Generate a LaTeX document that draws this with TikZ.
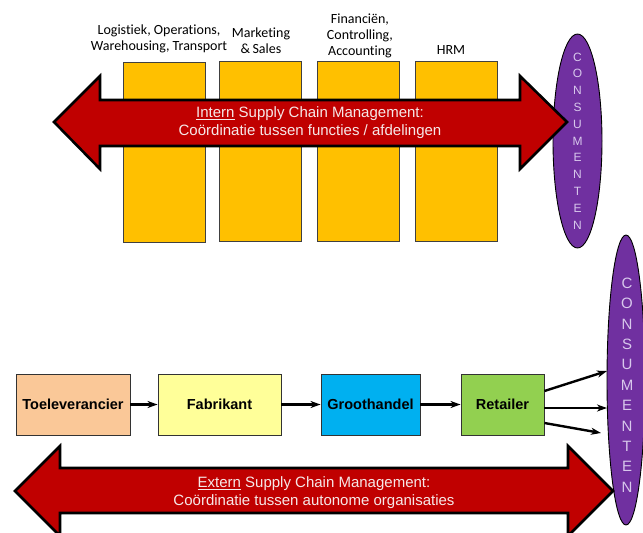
\documentclass[tikz,border=0pt]{standalone}
\usepackage{fontspec}
\setmainfont{Liberation Sans}
\newfontfamily\calibri[Ligatures=NoCommon]{Carlito}
\usetikzlibrary{arrows.meta,shapes.geometric}
\definecolor{ygold}{HTML}{FFC000}
\definecolor{sred}{HTML}{C00000}
\definecolor{cpurple}{HTML}{7030A0}
\definecolor{lavtext}{HTML}{D8C8EC}
\definecolor{pinktext}{HTML}{F6E8E8}
\definecolor{peach}{HTML}{FAC898}
\definecolor{lyellow}{HTML}{FFFF99}
\definecolor{cyanb}{HTML}{00B0F0}
\definecolor{lgreen}{HTML}{92D050}
\tikzset{
  ybox/.style={draw=black!75, line width=0.9pt, fill=ygold, minimum width=82pt, minimum height=180pt, inner sep=0pt},
  toplabel/.style={font=\calibri\fontsize{14}{16}\selectfont, align=center, anchor=base, inner sep=0pt},
  bigarrow/.style={draw=black, line width=2.6pt, fill=sred, line join=miter},
  arrowtext/.style={text=pinktext, font=\fontsize{15}{18}\selectfont, align=center, inner sep=0pt},
  cons/.style={draw=black, line width=0.9pt, fill=cpurple},
  constext/.style={text=lavtext, align=center, inner sep=0pt},
  chainbox/.style={draw=black!80, line width=0.9pt, minimum height=61pt, inner sep=0pt, font=\bfseries\fontsize{14.5}{17}\selectfont},
  flow/.style={line width=2.4pt, -{Stealth[length=10pt,width=7pt,inset=3pt]}}
}
\begin{document}
\begin{tikzpicture}[x=1pt,y=-1pt]
\useasboundingbox (0,0) rectangle (643,533);
% top part
\node[ybox] (y1) at (164,152) {};
\node[ybox] (y2) at (260,151) {};
\node[ybox] (y3) at (358,151) {};
\node[ybox] (y4) at (456,151) {};
\node[toplabel] (l1) at (159,50) {Logistiek, Operations,\\Warehousing, Transport};
\node[toplabel] (l2) at (261,53.5) {Marketing\\\&\,Sales};
\node[toplabel] (l3) at (360,55.5) {Financiën,\\Controlling,\\Accounting};
\node[toplabel] (l4) at (451,54.5) {HRM};
\node[cons, ellipse, minimum width=49pt, minimum height=214pt, inner sep=0pt] (e1) at (577.5,141) {};
\node[constext, font=\fontsize{12}{16.8}\selectfont] (e1t) at (577.5,141) {C\\O\\N\\S\\U\\M\\E\\N\\T\\E\\N};
\draw[bigarrow] (54,122) -- (100,76) -- (100,100) -- (520,100) -- (520,76) -- (567,122) -- (520,169) -- (520,146) -- (100,146) -- (100,169) -- cycle;
\node[arrowtext] (a1t) at (310,123) {\underline{Intern} Supply Chain Management:\\Coördinatie tussen functies / afdelingen};
% bottom part
\node[cons, ellipse, minimum width=38pt, minimum height=290pt, inner sep=0pt] (e2) at (626,380) {};
\node[constext, font=\fontsize{15}{20.4}\selectfont] (e2t) at (627,385) {C\\O\\N\\S\\U\\M\\E\\N\\T\\E\\N};
\node[chainbox, fill=peach, minimum width=114pt] (t) at (73,404.5) {Toeleverancier};
\node[chainbox, fill=lyellow, minimum width=123pt] (f) at (219.5,404.5) {Fabrikant};
\node[chainbox, fill=cyanb, minimum width=99pt] (g) at (370.5,404.5) {Groothandel};
\node[chainbox, fill=lgreen, minimum width=83pt] (r) at (502.5,404.5) {Retailer};
\draw[flow] (t) -- (f);
\draw[flow] (f) -- (g);
\draw[flow] (g) -- (r);
\coordinate (c1) at (607,371);
\coordinate (c2) at (607,408);
\coordinate (c3) at (601,433);
\draw[flow] ([yshift=13.5pt]r.east) -- (c1);
\draw[flow] ([yshift=-3.5pt]r.east) -- (c2);
\draw[flow] ([yshift=-18.5pt]r.east) -- (c3);
\draw[bigarrow] (15,491) -- (60,446) -- (60,468) -- (568,468) -- (568,446) -- (613,491) -- (568,536) -- (568,513) -- (60,513) -- (60,536) -- cycle;
\node[arrowtext] (a2t) at (314,493) {\underline{Extern} Supply Chain Management:\\Coördinatie tussen autonome organisaties};
\end{tikzpicture}
\end{document}
